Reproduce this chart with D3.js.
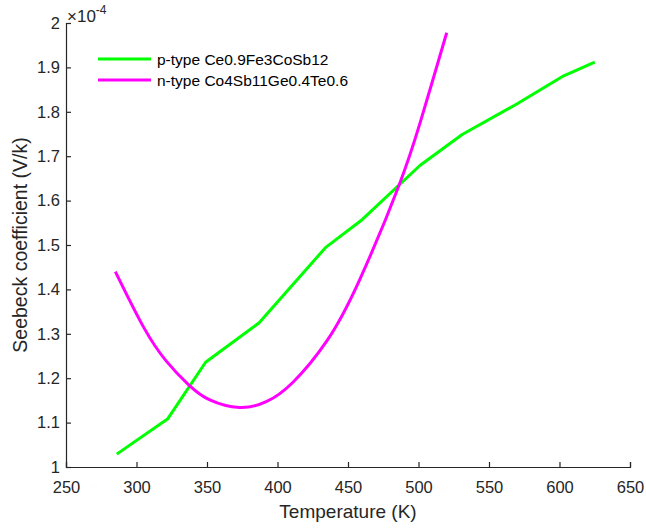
<!DOCTYPE html>
<html>
<head>
<meta charset="utf-8">
<script src="https://cdn.jsdelivr.net/npm/d3@7"></script>
<style>
  body { margin: 0; background: #fff; }
  svg { font-family: "Liberation Sans", Arial, sans-serif; }
</style>
</head>
<body>
<div id="chart"></div>
<script>
// p-type Ce0.9Fe3CoSb12 (values in 1e-4 V/K)
const pTemp = [286, 322, 349, 387, 434, 460, 501, 531, 570, 603, 625];
const pSeebeck = [1.029, 1.108, 1.236, 1.325, 1.494, 1.557, 1.679, 1.749, 1.818, 1.881, 1.912];

// n-type Co4Sb11Ge0.4Te0.6
const nTemp = [285, 305, 321, 337, 352, 373, 392, 411, 435, 458, 486, 501, 510, 520];
const nSeebeck = [1.440, 1.315, 1.239, 1.185, 1.151, 1.134, 1.147, 1.191, 1.284, 1.420, 1.633, 1.774, 1.870, 1.978];

const xTicks = [250, 300, 350, 400, 450, 500, 550, 600, 650];
const yTicks = [1, 1.1, 1.2, 1.3, 1.4, 1.5, 1.6, 1.7, 1.8, 1.9, 2];
const seriesNames = ["p-type Ce0.9Fe3CoSb12", "n-type Co4Sb11Ge0.4Te0.6"];
const seriesColors = ["#00ff00", "#ff00ff"];

const W = 646, H = 528;
const margin = {top: 23, right: 16, bottom: 61, left: 66};
const width = W - margin.left - margin.right,
    height = H - margin.top - margin.bottom;

const svg = d3.select("#chart")
    .append("svg")
    .attr("width", W)
    .attr("height", H);

const g = svg.append("g")
    .attr("transform", `translate(${margin.left},${margin.top})`);

const x = d3.scaleLinear().domain([250, 650]).range([0, width]);
const y = d3.scaleLinear().domain([1, 2]).range([height, 0]);

const axisColor = "#262626";

// axes, ticks pointing inward like matlab
const xAxis = g.append("g")
    .attr("transform", `translate(0,${height})`)
    .call(d3.axisBottom(x).tickValues(xTicks).tickSize(-5).tickPadding(14).tickFormat(d3.format("d")));
const yAxis = g.append("g")
    .call(d3.axisLeft(y).tickValues(yTicks).tickSize(-5).tickPadding(6).tickFormat(d => d3.format("")(+d.toFixed(1))));

[xAxis, yAxis].forEach(a => {
    a.select(".domain").attr("stroke", axisColor).attr("stroke-width", 1.2);
    a.selectAll(".tick line").attr("stroke", axisColor).attr("stroke-width", 1.2);
    a.selectAll(".tick text")
        .attr("fill", axisColor)
        .style("font-size", "16.5px")
        .style("font-family", "Liberation Sans, Arial, sans-serif");
});

// exponent label
const expo = g.append("text")
    .attr("x", 1)
    .attr("y", -1)
    .attr("fill", axisColor)
    .style("font-size", "17px");
expo.append("tspan").text("\u00d710");
expo.append("tspan").attr("dy", -8).style("font-size", "12px").text("-4");

// axis titles
svg.append("text")
    .attr("x", margin.left + width / 2)
    .attr("y", 518)
    .attr("text-anchor", "middle")
    .attr("fill", axisColor)
    .style("font-size", "19px")
    .text("Temperature (K)");

svg.append("text")
    .attr("transform", `translate(27,${margin.top + height / 2}) rotate(-90)`)
    .attr("text-anchor", "middle")
    .attr("fill", axisColor)
    .style("font-size", "19.5px")
    .text("Seebeck coefficient (V/k)");

// lines
const series = [
    {t: pTemp, v: pSeebeck, curve: d3.curveLinear},
    {t: nTemp, v: nSeebeck, curve: d3.curveNatural}
];

series.forEach((s, i) => {
    const pts = s.t.map((t, j) => [t, s.v[j]]);
    g.append("path")
        .datum(pts)
        .attr("fill", "none")
        .attr("stroke", seriesColors[i])
        .attr("stroke-width", 3)
        .attr("stroke-linejoin", "round")
        .attr("d", d3.line()
            .curve(s.curve)
            .x(d => x(d[0]))
            .y(d => y(d[1]))
        );
});

// legend
const legend = svg.append("g").attr("transform", "translate(98,59)");
seriesNames.forEach((name, i) => {
    const row = legend.append("g").attr("transform", `translate(0,${i * 21})`);
    row.append("line")
        .attr("x1", 0).attr("x2", 53)
        .attr("stroke", seriesColors[i])
        .attr("stroke-width", 3);
    row.append("text")
        .attr("x", 59)
        .attr("y", 5.5)
        .attr("fill", "#000")
        .style("font-size", "15.5px")
        .text(name);
});
</script>
</body>
</html>
